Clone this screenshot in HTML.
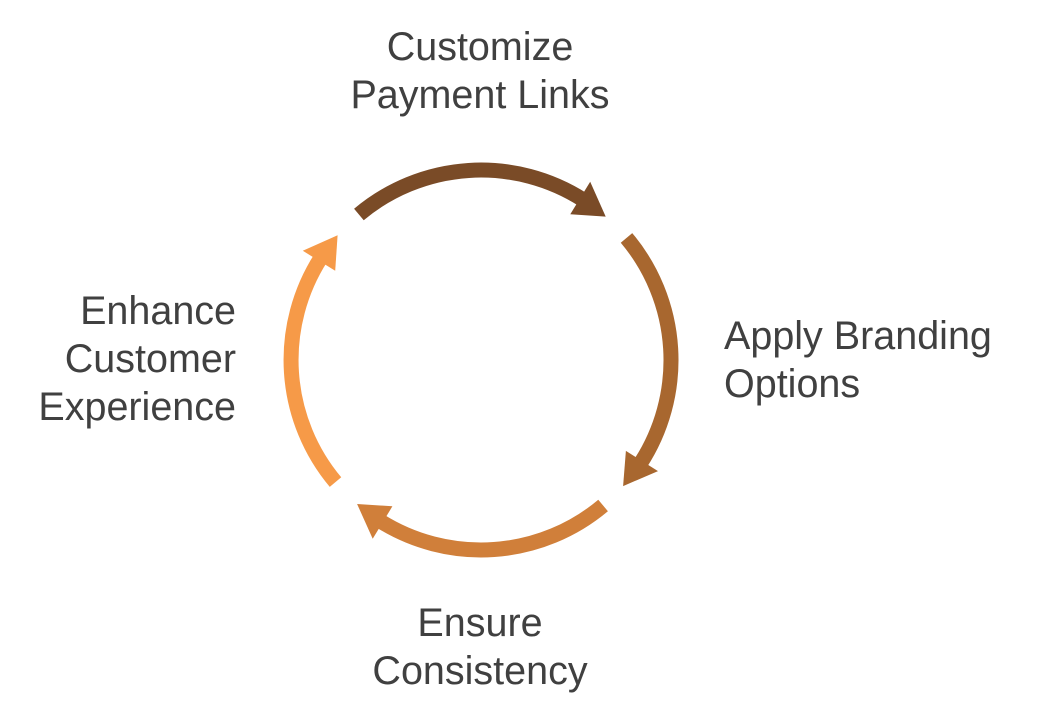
<!DOCTYPE html>
<html><head><meta charset="utf-8"><style>
html,body{margin:0;padding:0;background:#fff;width:1056px;height:721px;overflow:hidden}
.t{position:absolute;font-family:"Liberation Sans",sans-serif;font-size:39.5px;color:#404040;line-height:48px;white-space:nowrap}
</style></head><body>
<svg id="s" width="1056" height="721" style="position:absolute;left:0;top:0"></svg>
<div class="t" style="left:280px;width:400px;text-align:center;top:23px">Customize<br>Payment Links</div>
<div class="t" style="left:724px;top:312px">Apply Branding<br>Options</div>
<div class="t" style="left:280px;width:400px;text-align:center;top:599px">Ensure<br>Consistency</div>
<div class="t" style="left:0;width:236px;text-align:right;top:287px">Enhance<br>Customer<br>Experience</div>
<script>
var cx=481,cy=360,r=190,s=document.getElementById('s'),h='';
var segs=[[-130,-49,'#7a4b27'],[-40,41.6,'#a8672f'],[50,130.7,'#d07f3a'],[140,221,'#f69a48']];
function P(a,rr){a=a*Math.PI/180;return (cx+rr*Math.cos(a)).toFixed(1)+','+(cy+rr*Math.sin(a)).toFixed(1);}
segs.forEach(function(g){
 var b=g[1]-9.5;
 h+='<path d="M'+P(g[0],r)+' A'+r+','+r+' 0 0 1 '+P(b+1,r)+'" fill="none" stroke="'+g[2]+'" stroke-width="15"/>';
 h+='<polygon points="'+P(g[1],r)+' '+P(b,r+19)+' '+P(b,r-19)+'" fill="'+g[2]+'"/>';
});
s.innerHTML=h;
</script>
</body></html>
